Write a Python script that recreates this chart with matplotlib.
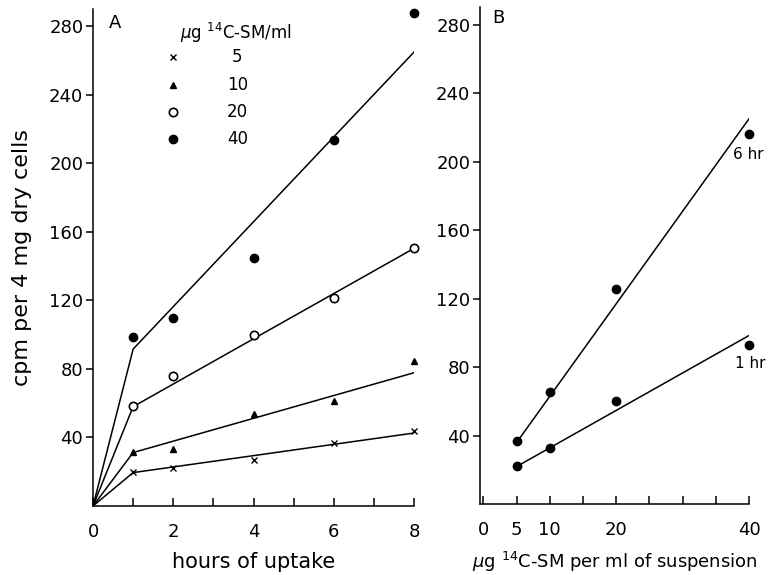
import matplotlib
matplotlib.use('Agg')
import matplotlib.pyplot as plt
import numpy as np

# panel A: uptake vs time, one series per concentration
hours = [1, 2, 4, 6, 8]
conc = ['5', '10', '20', '40']
cpm_5 = [20, 22.4, 26.8, 37, 44]
cpm_10 = [31.7, 33.3, 53.5, 61.3, 84.6]
cpm_20 = [58.4, 75.9, 99.6, 121.4, 150.4]
cpm_40 = [98.8, 109.5, 144.6, 213.7, 288]
# fitted lines: value at 1 hr and at 8 hr (line goes through origin to 1 hr)
fit_1hr = [19.5, 31.2, 58.0, 91.6]
fit_8hr = [42.6, 77.8, 150.4, 265]

# panel B: uptake vs concentration
dose = [5, 10, 20, 40]
cpm_6hr = [37, 65.4, 125.5, 216]
cpm_1hr = [22.6, 33, 60, 93]
fit_6hr = [36, 225]
fit_1hr_b = [22, 98.5]

plt.rcParams['font.family'] = 'DejaVu Sans'
plt.rcParams['mathtext.fontset'] = 'dejavusans'
fs = 13

fig = plt.figure(figsize=(7.7, 5.75), dpi=100)
axA = fig.add_axes([0.1208, 0.12, 0.4169, 0.864])
axB = fig.add_axes([0.6234, 0.123, 0.3493, 0.864])

styles = [dict(marker='x', ms=4.5, mew=1.0, color='black', ls='none'),
          dict(marker='^', ms=4.5, color='black', ls='none'),
          dict(marker='o', ms=6, mfc='white', mec='black', mew=1.2, ls='none'),
          dict(marker='o', ms=6, color='black', ls='none')]
series = [cpm_5, cpm_10, cpm_20, cpm_40]

for ys, f1, f8, st in zip(series, fit_1hr, fit_8hr, styles):
    axA.plot([0, 1, 8], [0, f1, f8], color='black', lw=1.1, zorder=1)
    axA.plot(hours, ys, zorder=2, clip_on=False, **st)

axA.set_xlim(0, 8)
axA.set_ylim(0, 290)
axA.set_xticks(range(0, 9))
axA.set_xticklabels(['0', '', '2', '', '4', '', '6', '', '8'])
axA.set_yticks(range(40, 281, 40))
axA.set_xlabel('hours of uptake', fontsize=fs + 2, labelpad=8)
axA.set_ylabel('cpm per 4 mg dry cells', fontsize=fs + 3, labelpad=12)
axA.text(0.55, 282, 'A', fontsize=fs, ha='center', va='center')

# legend drawn by hand as in the figure
axA.text(3.55, 276, r'$\mu$g $^{14}$C-SM/ml', fontsize=fs - 1, ha='center', va='center')
leg_y = [262, 246, 230, 214]
for yy, lab, st in zip(leg_y, conc, styles):
    axA.plot([2.0], [yy], **st)
    axA.text(3.6, yy, lab, fontsize=fs - 1, ha='center', va='center')

axB.plot([dose[0], dose[-1]], fit_6hr, color='black', lw=1.1)
axB.plot([dose[0], dose[-1]], fit_1hr_b, color='black', lw=1.1)
axB.plot(dose, cpm_6hr, 'o', color='black', ms=6, clip_on=False)
axB.plot(dose, cpm_1hr, 'o', color='black', ms=6, clip_on=False)
axB.text(37.6, 204, '6 hr', fontsize=fs - 2, ha='left', va='center')
axB.text(37.9, 82, '1 hr', fontsize=fs - 2, ha='left', va='center')
axB.set_xlim(-0.5, 40)
axB.set_ylim(0, 290)
axB.set_xticks(range(0, 41, 5))
axB.set_xticklabels(['0', '5', '10', '', '20', '', '', '', '40'])
axB.set_yticks(range(40, 281, 40))
axB.set_xlabel(r'$\mu$g $^{14}$C-SM per ml of suspension', fontsize=fs, labelpad=8)
axB.text(2.2, 284, 'B', fontsize=fs, ha='center', va='center')

for ax in (axA, axB):
    for s in ('top', 'right'):
        ax.spines[s].set_visible(False)
    for s in ('left', 'bottom'):
        ax.spines[s].set_linewidth(1.1)
    ax.tick_params(axis='x', direction='in', length=6, width=1.1, labelsize=fs, pad=12)
    ax.tick_params(axis='y', direction='out', length=5, width=1.1, labelsize=fs, pad=2)

fig.savefig('out.png', dpi=100)
